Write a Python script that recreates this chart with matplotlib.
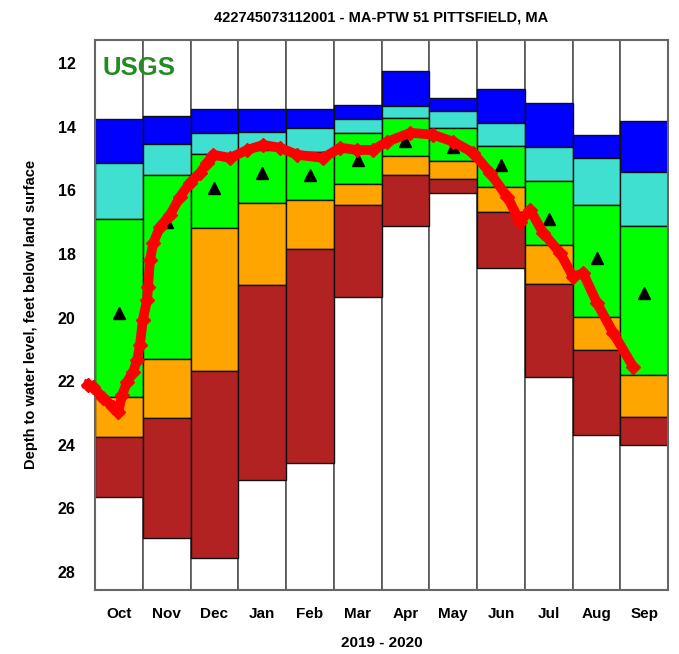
import matplotlib.pyplot as plt
from matplotlib.patches import Rectangle

plt.rcParams['font.family'] = ['Liberation Sans', 'DejaVu Sans']

months = ['Oct', 'Nov', 'Dec', 'Jan', 'Feb', 'Mar', 'Apr', 'May', 'Jun', 'Jul', 'Aug', 'Sep']

# percentile band edges (depth, ft) per month, shallow -> deep
p_max = [13.75, 13.65, 13.44, 13.44, 13.44, 13.31, 12.26, 13.10, 12.82, 13.26, 14.26, 13.81]
p90 = [15.15, 14.55, 14.20, 14.15, 14.05, 13.75, 13.34, 13.49, 13.89, 14.65, 14.99, 15.43]
p75 = [16.90, 15.53, 14.86, 14.73, 14.78, 14.20, 13.71, 14.05, 14.59, 15.70, 16.46, 17.12]
p25 = [22.50, 21.30, 17.17, 16.40, 16.30, 15.80, 14.92, 15.07, 15.90, 17.71, 19.97, 21.80]
p10 = [23.76, 23.17, 21.67, 18.99, 17.84, 16.46, 15.53, 15.64, 16.67, 18.94, 21.02, 23.11]
p_min = [25.65, 26.92, 27.57, 25.10, 24.56, 19.34, 17.13, 16.09, 18.45, 21.86, 23.69, 24.00]
medians = [19.85, 16.98, 15.93, 15.44, 15.53, 15.04, 14.45, 14.63, 15.20, 16.91, 18.13, 19.23]

# daily levels 2019-2020, x in months since Oct 1
obs_x = [-0.15, -0.04, 0.17, 0.38, 0.48, 0.57, 0.67, 0.80, 0.88, 0.94, 1.00, 1.09, 1.11,
         1.15, 1.22, 1.36, 1.57, 1.78, 1.99, 2.20, 2.35, 2.47, 2.83, 3.18, 3.52, 3.87,
         4.23, 4.78, 5.13, 5.49, 5.82, 6.12, 6.60, 7.08, 7.50, 7.92, 8.27, 8.63, 8.90,
         9.11, 9.38, 9.74, 10.01, 10.22, 10.51, 10.85, 11.27]
obs_y = [22.12, 22.18, 22.53, 22.81, 22.97, 22.43, 22.02, 21.70, 21.33, 20.86, 20.07, 19.44, 19.03,
         18.19, 17.65, 17.15, 16.77, 16.20, 15.76, 15.45, 15.13, 14.88, 14.98, 14.73, 14.57, 14.66,
         14.88, 14.98, 14.66, 14.73, 14.73, 14.47, 14.19, 14.25, 14.47, 14.82, 15.45, 16.20, 16.99,
         16.61, 17.33, 17.97, 18.72, 18.60, 19.54, 20.48, 21.55]

y_top, y_bot = 11.27, 28.56

fig = plt.figure(figsize=(6.79, 6.54), dpi=100)
ax = fig.add_axes([0.14, 0.098, 0.844, 0.841])

bands = [(p_max, p90, '#0000ff'), (p90, p75, '#40e0d0'), (p75, p25, '#00ff00'),
         (p25, p10, '#ffa500'), (p10, p_min, '#b22222')]

for i in range(12):
    ax.add_patch(Rectangle((i, y_top), 1, y_bot - y_top, facecolor='white',
                           edgecolor='#555555', lw=1.2, zorder=1))
    for top, bot, col in bands:
        ax.add_patch(Rectangle((i, top[i]), 1, bot[i] - top[i], facecolor=col,
                               edgecolor='#111111', lw=1.0, zorder=2))

ax.plot([i + 0.5 for i in range(12)], medians, '^', color='black', ms=8, zorder=3)
ax.plot(obs_x, obs_y, '-', color='red', lw=7, zorder=4, clip_on=False)
ax.plot(obs_x, obs_y, 'D', color='red', ms=7, zorder=4, clip_on=False)

ax.set_xlim(0, 12)
ax.set_ylim(y_bot, y_top)
ax.set_yticks(range(12, 29, 2))
ax.set_yticklabels([str(v) for v in range(12, 29, 2)], fontsize=11.5, fontweight='bold')
ax.set_xticks([i + 0.5 for i in range(12)])
ax.set_xticklabels(months, fontsize=11, fontweight='bold')
ax.tick_params(length=0, pad=12)
ax.tick_params(axis='y', pad=14)
for s in ax.spines.values():
    s.set_color('#666666')
    s.set_linewidth(1.5)

ax.set_xlabel('2019 - 2020', fontsize=11, fontweight='bold', labelpad=11)
ax.set_ylabel('Depth to water level, feet below land surface', fontsize=10.5,
              fontweight='bold', labelpad=14)
ax.set_title('422745073112001 - MA-PTW 51 PITTSFIELD, MA', fontsize=10.5,
             fontweight='bold', pad=13)
ax.text(0.15, 12.15, 'USGS', color='#228b22', fontsize=18.5, fontweight='bold',
        va='center', ha='left', zorder=5)

fig.savefig('out.png', dpi=100)
